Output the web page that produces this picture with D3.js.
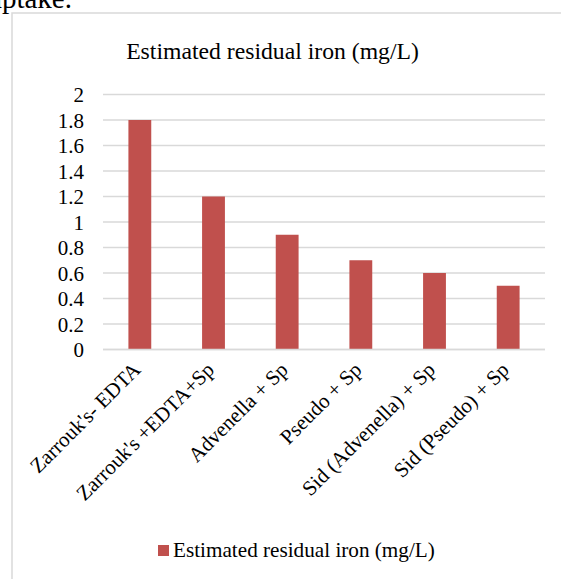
<!DOCTYPE html>
<html><head><meta charset="utf-8">
<script src="https://cdn.jsdelivr.net/npm/d3@7/dist/d3.min.js"></script>
<style>html,body{margin:0;padding:0;background:#fff;overflow:hidden}</style>
</head><body>
<script>
const categories = ["Zarrouk's- EDTA", "Zarrouk's +EDTA+Sp", "Advenella + Sp", "Pseudo + Sp", "Sid (Advenella) + Sp", "Sid (Pseudo) + Sp"];
const values = [1.8, 1.2, 0.9, 0.7, 0.6, 0.5];
const yTicks = [0, 0.2, 0.4, 0.6, 0.8, 1, 1.2, 1.4, 1.6, 1.8, 2];
const seriesName = "Estimated residual iron (mg/L)";
const chartTitle = "Estimated residual iron (mg/L)";

(function () {
const W = 561, H = 579;
const font = "'Liberation Serif','Times New Roman',serif";
const svg = d3.select("body").append("svg").attr("width", W).attr("height", H);

svg.append("text").attr("x", 72).attr("y", 8).attr("text-anchor", "end")
  .style("font-family", font).style("font-size", "29px").attr("fill", "#000").text("uptake.");

svg.append("rect").attr("x", 12).attr("y", 13).attr("width", 600).attr("height", 600)
  .attr("fill", "none").attr("stroke", "#d9d9d9").attr("stroke-width", 1.5);

const pL = 103, pR = 545, pT = 94.5, pB = 349.5;
const x = d3.scaleBand().domain(categories).range([pL, pR]).padding(0);
const y = d3.scaleLinear().domain([0, 2]).range([pB, pT]);

svg.append("g").selectAll("line").data(yTicks).join("line")
  .attr("x1", pL).attr("x2", pR)
  .attr("y1", d => y(d)).attr("y2", d => y(d))
  .attr("stroke", "#d9d9d9").attr("stroke-width", 1.5);

const yAxis = d3.axisLeft(y).tickValues(yTicks).tickSize(0).tickPadding(0).tickFormat(d => String(d));
const ya = svg.append("g").attr("transform", `translate(${pL - 19},0)`).call(yAxis);
ya.select(".domain").remove();
ya.selectAll("text").style("font-family", font).style("font-size", "21px").attr("fill", "#000").attr("dy", "0.34em");

const bw = x.bandwidth() * 0.31;
svg.append("g").selectAll("rect").data(values).join("rect")
  .attr("x", (d, i) => x(categories[i]) + x.bandwidth() / 2 - bw / 2)
  .attr("width", bw)
  .attr("y", d => y(d))
  .attr("height", d => y(0) - y(d))
  .attr("fill", "#c0504d");

svg.append("line").attr("x1", pL).attr("x2", pR).attr("y1", pB).attr("y2", pB)
  .attr("stroke", "#d9d9d9").attr("stroke-width", 1.5);

svg.append("g").selectAll("text").data(categories).join("text")
  .attr("transform", d => `translate(${x(d) + x.bandwidth() / 2 + 2},371) rotate(-45)`)
  .attr("text-anchor", "end")
  .style("font-family", font).style("font-size", "21px").attr("fill", "#000")
  .text(d => d);

svg.append("text").attr("x", 272.5).attr("y", 59).attr("text-anchor", "middle")
  .style("font-family", font).style("font-size", "23.7px").attr("fill", "#000").text(chartTitle);

svg.append("rect").attr("x", 158).attr("y", 545).attr("width", 11).attr("height", 11).attr("fill", "#c0504d");
svg.append("text").attr("x", 173).attr("y", 557)
  .style("font-family", font).style("font-size", "21.2px").attr("fill", "#000").text(seriesName);
})();
</script>
</body></html>
